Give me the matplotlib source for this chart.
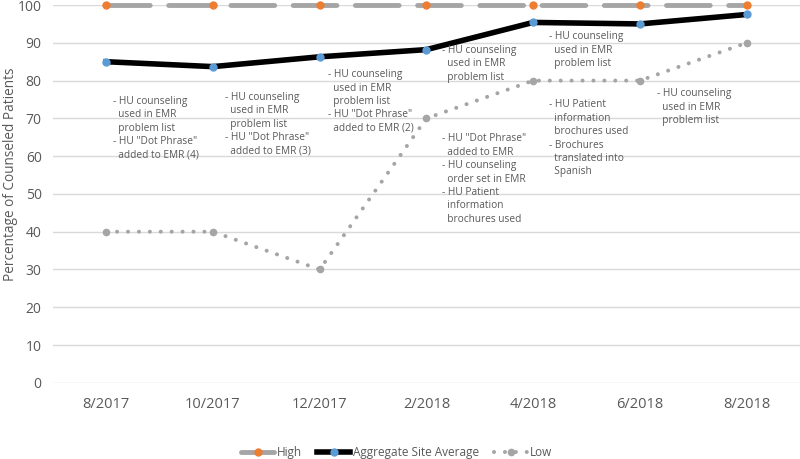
import matplotlib.pyplot as plt
import numpy as np

plt.rcParams['font.family'] = ['Open Sans', 'DejaVu Sans']

months = ["8/2017", "10/2017", "12/2017", "2/2018", "4/2018", "6/2018", "8/2018"]
high = [100, 100, 100, 100, 100, 100, 100]
aggregate = [85, 83.7, 86.3, 88.2, 95.4, 95, 97.5]
low = [40, 40, 30, 70, 80, 80, 90]

notes = [
    '- HU counseling\n  used in EMR\n  problem list\n- HU "Dot Phrase"\n  added to EMR (4)',
    '- HU counseling\n  used in EMR\n  problem list\n- HU "Dot Phrase"\n  added to EMR (3)',
    '- HU counseling\n  used in EMR\n  problem list\n- HU "Dot Phrase"\n  added to EMR (2)',
    '- HU counseling\n  used in EMR\n  problem list',
    '- HU "Dot Phrase"\n  added to EMR\n- HU counseling\n  order set in EMR\n- HU Patient\n  information\n  brochures used',
    '- HU counseling\n  used in EMR\n  problem list',
    '- HU Patient\n  information\n  brochures used\n- Brochures\n  translated into\n  Spanish',
    '- HU counseling\n  used in EMR\n  problem list',
]
note_x = [0.06, 1.11, 2.08, 3.15, 3.15, 4.15, 4.15, 5.16]
note_y = [76.0, 77.0, 83.0, 89.5, 66.0, 93.0, 75.0, 78.0]

gray = '#A5A5A5'
txt = '#595959'
x = np.arange(len(months))

fig = plt.figure(figsize=(8, 4.59), dpi=100)
ax = fig.add_axes([0.066, 0.166, 0.934, 0.823])

ax.plot(x, high, color=gray, linewidth=3.5, dashes=(9, 3.8),
        solid_capstyle='round', dash_capstyle='round',
        marker='o', markersize=5, markerfacecolor='#ED7D31',
        markeredgecolor='#ED7D31', label='High', clip_on=False, zorder=3)
ax.plot(x, aggregate, color='black', linewidth=4,
        marker='o', markersize=5, markerfacecolor='#5B9BD5',
        markeredgecolor='#5B9BD5', label='Aggregate Site Average',
        clip_on=False, zorder=4)
ax.plot(x, low, color=gray, linewidth=2.9, dashes=(0.01, 2.7),
        dash_capstyle='round', marker='o', markersize=4.5,
        markerfacecolor=gray, markeredgecolor=gray, label='Low',
        clip_on=False, zorder=3)

for t, tx, ty in zip(notes, note_x, note_y):
    ax.text(tx, ty, t, fontsize=7.3, color=txt, va='top', ha='left',
            linespacing=1.3, zorder=5)

ax.set_xlim(-0.5, 6.5)
ax.set_ylim(0, 100)
ax.set_yticks(np.arange(0, 101, 10))
ax.set_xticks(x)
ax.set_xticklabels(months)
ax.tick_params(axis='x', length=0, pad=10, labelsize=10.5, labelcolor=txt)
ax.tick_params(axis='y', length=0, pad=8, labelsize=10, labelcolor=txt)
ax.grid(axis='y', color='#D9D9D9', linewidth=1)
ax.set_axisbelow(True)
for s in ax.spines.values():
    s.set_visible(False)
ax.set_ylabel('Percentage of Counseled Patients', fontsize=9.8, color=txt)
ax.yaxis.set_label_coords(-0.047, 0.553)

ax.legend(loc='center', bbox_to_anchor=(0.46, -0.185), ncol=3, frameon=False,
          fontsize=8.5, labelcolor=txt, handlelength=2.8, columnspacing=1.3,
          handletextpad=0.2)

plt.savefig('out.png', dpi=100)
